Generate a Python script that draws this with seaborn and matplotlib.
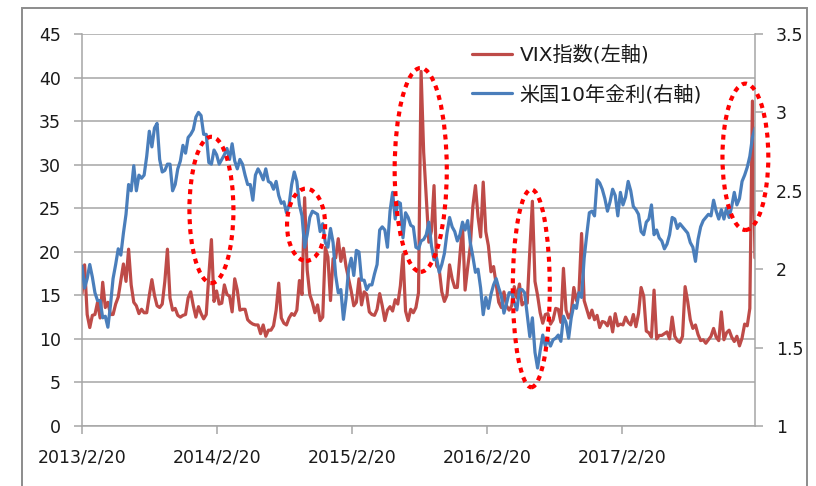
import pandas as pd
import matplotlib
matplotlib.use('Agg')
import matplotlib.pyplot as plt
import matplotlib.dates as mdates
from matplotlib.patches import Ellipse, Rectangle
from matplotlib.ticker import FuncFormatter
import seaborn as sns

sns.set_theme(style='white')
plt.rcParams['font.family'] = ['DejaVu Sans', 'Noto Sans CJK JP']

# weekly (Wednesday) observations, 2013/2/20 - 2018/2/14
start_date = '2013-02-20'
end_date = '2018-02-14'

rate_2013 = [2.02, 1.88,
             1.94, 2.03, 1.95, 1.85,
             1.80, 1.80, 1.69, 1.70,
             1.63, 1.77, 1.94, 2.03, 2.13,
             2.09, 2.23, 2.35, 2.54,
             2.50, 2.66, 2.50, 2.60, 2.58,
             2.60, 2.72, 2.88, 2.78,
             2.90, 2.93, 2.70, 2.62,
             2.63, 2.67, 2.67, 2.50, 2.54,
             2.64, 2.69, 2.79, 2.74,
             2.84, 2.86, 2.89, 2.97]
rate_2014 = [3.00, 2.98, 2.86, 2.86, 2.68,
             2.67, 2.76, 2.73, 2.67,
             2.70, 2.73, 2.77, 2.70,
             2.80, 2.69, 2.64, 2.70, 2.67,
             2.60, 2.54, 2.54, 2.44,
             2.60, 2.64, 2.61, 2.57,
             2.64, 2.56, 2.55, 2.51, 2.56,
             2.47, 2.42, 2.43, 2.36,
             2.41, 2.54, 2.62, 2.56,
             2.41, 2.34, 2.14, 2.22, 2.33,
             2.37, 2.36, 2.35, 2.24,
             2.29, 2.17, 2.14, 2.26, 2.17]
rate_2015 = [1.96, 1.85, 1.87, 1.68,
             1.81, 2.00, 2.07, 1.96,
             2.12, 2.11, 1.93, 1.93,
             1.87, 1.90, 1.90, 1.97, 2.03,
             2.25, 2.27, 2.25, 2.14,
             2.37, 2.49, 2.32, 2.43,
             2.42, 2.20, 2.36, 2.33, 2.28,
             2.27, 2.14, 2.13, 2.18,
             2.19, 2.22, 2.30, 2.15, 2.06,
             2.07, 1.98, 2.03, 2.10,
             2.23, 2.33, 2.27, 2.24,
             2.18, 2.22, 2.30, 2.25, 2.31]
rate_2016 = [2.17, 2.08, 1.98, 2.00,
             1.88, 1.71, 1.82, 1.75,
             1.84, 1.90, 1.94, 1.88, 1.83,
             1.72, 1.78, 1.85, 1.85,
             1.79, 1.74, 1.87, 1.87,
             1.85, 1.71, 1.57, 1.69, 1.47,
             1.37, 1.48, 1.58, 1.51,
             1.55, 1.51, 1.55, 1.56, 1.58,
             1.54, 1.70, 1.66, 1.56,
             1.69, 1.77, 1.75, 1.85,
             1.82, 2.07, 2.22, 2.36, 2.37,
             2.34, 2.57, 2.55, 2.51]
rate_2017 = [2.45, 2.37, 2.43, 2.51,
             2.47, 2.34, 2.49, 2.41,
             2.46, 2.56, 2.50, 2.40, 2.38,
             2.35, 2.24, 2.22, 2.30,
             2.32, 2.41, 2.22, 2.25, 2.20,
             2.18, 2.13, 2.16, 2.22,
             2.33, 2.32, 2.26, 2.29,
             2.27, 2.25, 2.23, 2.17, 2.14,
             2.05, 2.19, 2.27, 2.31,
             2.33, 2.35, 2.34, 2.44,
             2.37, 2.32, 2.38, 2.32, 2.39,
             2.33, 2.40, 2.49, 2.41]
rate_2018 = [2.45, 2.56, 2.60, 2.65, 2.72,
             2.84, 2.90]

vix_2013 = [15.2, 18.5,
            12.8, 11.3, 12.7, 12.8,
            14.2, 12.4, 16.5, 13.6,
            14.2, 12.8, 12.8, 14.0, 14.8,
            16.7, 18.6, 16.6, 20.3,
            16.2, 14.2, 13.8, 12.9, 13.4,
            13.0, 13.0, 15.0, 16.8,
            15.0, 13.8, 13.6, 14.0,
            16.6, 20.3, 14.7, 13.3, 13.5,
            12.7, 12.5, 12.7, 12.8,
            14.7, 15.4, 13.8, 12.5]
vix_2014 = [13.7, 12.9, 12.3, 12.8, 17.3,
            21.4, 14.3, 15.5, 14.0,
            14.1, 16.2, 15.1, 14.9,
            13.1, 16.9, 15.6, 13.3, 13.4,
            13.4, 12.2, 11.9, 11.7,
            11.6, 11.6, 10.6, 11.6,
            10.3, 11.0, 11.0, 11.5, 13.3,
            16.4, 12.4, 11.8, 11.6,
            12.4, 12.9, 12.7, 13.3,
            16.7, 15.1, 26.2, 17.9, 15.1,
            14.2, 13.0, 13.9, 12.1,
            12.5, 20.5, 19.4, 14.4, 19.2]
vix_2015 = [19.3, 21.5, 18.9, 20.4,
            18.3, 16.9, 15.5, 13.8,
            14.2, 16.9, 13.9, 15.4,
            15.1, 13.1, 12.8, 12.7, 13.4,
            15.2, 13.8, 12.1, 13.3,
            13.7, 13.2, 14.5, 14.0,
            16.1, 19.7, 13.2, 12.1, 13.4,
            13.0, 13.6, 15.3, 40.7,
            31.4, 26.2, 21.1, 22.4, 27.6,
            18.4, 18.0, 15.4, 14.3,
            15.0, 18.5, 16.9, 15.9,
            15.9, 19.6, 23.0, 15.6, 18.2]
vix_2016 = [20.6, 25.2, 27.6, 24.0,
            21.7, 28.0, 22.3, 20.7,
            17.7, 18.3, 16.3, 14.2, 13.6,
            15.4, 13.8, 13.3, 13.8,
            16.0, 14.7, 16.3, 13.9,
            14.2, 14.1, 20.1, 25.8, 16.6,
            15.0, 13.0, 11.8, 12.8,
            12.9, 11.7, 12.2, 13.5, 13.4,
            11.9, 18.1, 13.3, 12.4,
            13.0, 15.9, 14.4, 15.4,
            22.1, 14.4, 13.4, 12.4, 13.3,
            12.2, 12.7, 11.3, 12.0]
vix_2017 = [11.9, 11.5, 12.5, 10.8,
            12.9, 11.5, 11.7, 11.6,
            12.5, 11.9, 11.6, 12.8, 11.4,
            12.9, 15.9, 14.9, 10.9,
            10.7, 10.2, 15.6, 10.0, 10.4,
            10.4, 10.6, 10.8, 10.0,
            12.5, 10.3, 9.8, 9.6,
            10.3, 16.0, 14.3, 12.2, 11.2,
            11.6, 10.5, 9.8, 9.9,
            9.5, 9.9, 10.3, 11.2,
            10.2, 9.8, 13.1, 9.9, 10.7,
            11.0, 10.2, 9.7, 10.3]
vix_2018 = [9.2, 10.1, 11.7, 11.5, 13.5,
            37.3, 19.3]

vix_label = 'VIX指数(左軸)'
rate_label = '米国10年金利(右軸)'
xtick_dates = ['2013-02-20', '2014-02-20', '2015-02-20', '2016-02-20', '2017-02-20']

# highlighted periods: (centre date, centre VIX level, width in days, height in VIX pts)
highlights = [('2014-02-05', 24.8, 119, 16.8),
              ('2014-10-19', 23.1, 103, 8.3),
              ('2015-08-25', 29.4, 141, 23.4),
              ('2016-06-19', 15.8, 100, 22.7),
              ('2018-01-19', 30.9, 124, 16.8)]

dates = pd.date_range(start_date, end_date, freq='7D')
df = pd.DataFrame({'date': dates,
                   'vix': vix_2013 + vix_2014 + vix_2015 + vix_2016 + vix_2017 + vix_2018,
                   'rate': rate_2013 + rate_2014 + rate_2015 + rate_2016 + rate_2017 + rate_2018})

RED = '#BE4B48'
BLUE = '#4A7EBB'
GRID = '#A6A6A6'
TXT = '#1A1A1A'

fig = plt.figure(figsize=(8.16, 4.86), dpi=100)
ax = fig.add_axes([82/816, 60/486, 673/816, 392/486])
ax2 = ax.twinx()

sns.lineplot(data=df, x='date', y='vix', ax=ax, color=RED, lw=2.3, legend=False)
sns.lineplot(data=df, x='date', y='rate', ax=ax2, color=BLUE, lw=2.3, legend=False)

ax.set_xlim(dates[0], dates[-1])
ax.set_ylim(0, 45)
ax2.set_ylim(1, 3.5)
ax.set_yticks(range(0, 46, 5))
ax2.set_yticks([1, 1.5, 2, 2.5, 3, 3.5])
ax2.yaxis.set_major_formatter(FuncFormatter(lambda v, p: f'{v:g}'))
xt = pd.to_datetime(xtick_dates)
ax.set_xticks(xt)
ax.set_xticklabels([f'{d.year}/{d.month}/{d.day}' for d in xt])
ax.set_xlabel('')
ax.set_ylabel('')
ax2.set_ylabel('')

ax.yaxis.grid(True, color=GRID, lw=1.1)
ax.set_axisbelow(True)
ax2.grid(False)
for s in ['top', 'right']:
    ax.spines[s].set_visible(False)
for s in ['top', 'left', 'bottom']:
    ax2.spines[s].set_visible(False)
ax.spines['left'].set_color(GRID)
ax.spines['bottom'].set_color(GRID)
ax2.spines['right'].set_color(GRID)
for s in [ax.spines['left'], ax.spines['bottom'], ax2.spines['right']]:
    s.set_linewidth(1.1)

ax.tick_params(axis='x', bottom=True, direction='out', length=6, width=1.1, color=GRID,
               labelsize=12.5, labelcolor=TXT, pad=10)
ax.tick_params(axis='y', left=True, direction='out', length=6, width=1.1, color=GRID,
               labelsize=12.5, labelcolor=TXT, pad=9)
ax2.tick_params(axis='y', right=True, direction='out', length=6, width=1.1, color=GRID,
                labelsize=12.5, labelcolor=TXT, pad=9)

for day, level, w, h in highlights:
    e = Ellipse((mdates.date2num(pd.Timestamp(day)), level), w, h,
                transform=ax.transData, fill=False, edgecolor='#FF0000',
                lw=3.0, linestyle=(0, (1.2, 1.2)), clip_on=False, zorder=10)
    ax2.add_patch(e)

handles = [ax.lines[0], ax2.lines[0]]
fig.legend(handles, [vix_label, rate_label], loc='upper left',
           bbox_to_anchor=(462/816, 1 - 35/486), frameon=False, fontsize=14.5,
           borderpad=0, handlelength=2.0, handletextpad=0.35, labelspacing=1.0,
           labelcolor=TXT)

fig.patches.append(Rectangle((22/816, -0.1), 785/816, 1.1 - 8/486,
                             transform=fig.transFigure, fill=False,
                             edgecolor='#8C8C8C', lw=1.4))

fig.savefig('out.png', dpi=100)
plt.close()
